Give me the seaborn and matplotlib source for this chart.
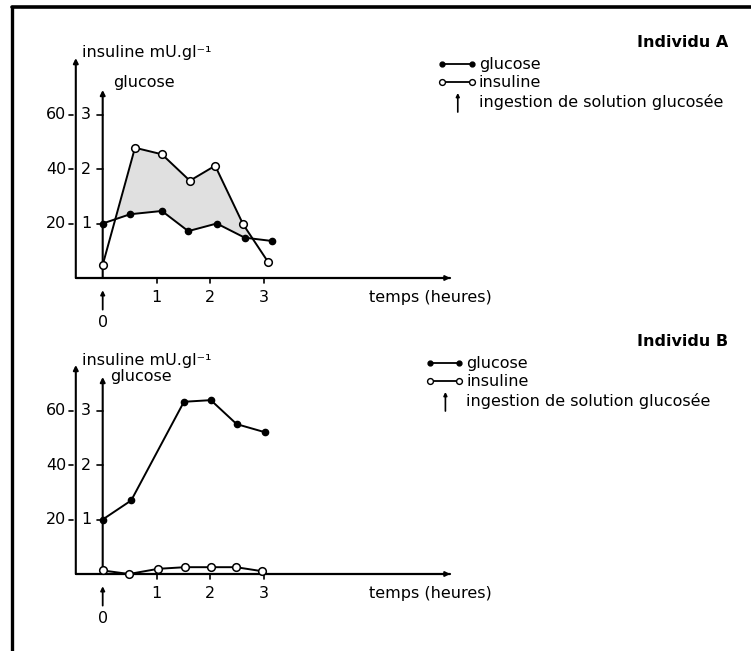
import numpy as np
import pandas as pd
import matplotlib
matplotlib.use("Agg")
import matplotlib.pyplot as plt
from matplotlib.lines import Line2D
import seaborn as sns

# --- data ---
# Individu A
time_glucose_a = [0, 0.51, 1.1, 1.59, 2.12, 2.64, 3.14]
glucose_a = [1.0, 1.17, 1.23, 0.86, 1.0, 0.74, 0.68]        # g/l
time_insulin_a = [0, 0.6, 1.1, 1.62, 2.09, 2.61, 3.07]
insulin_a = [4.8, 47.8, 45.4, 35.7, 41.2, 19.7, 6.0]         # mU/l

# Individu B
time_glucose_b = [0, 0.53, 1.51, 2.01, 2.49, 3.02]
glucose_b = [1.0, 1.35, 3.16, 3.19, 2.75, 2.6]
time_insulin_b = [0, 0.49, 1.03, 1.53, 2.01, 2.48, 2.97]
insulin_b = [1.3, 0.0, 1.9, 2.5, 2.5, 2.5, 1.0]

insulin_ticks = [20, 40, 60]
glucose_ticks = [1, 2, 3]
time_ticks = [1, 2, 3]

GLUCOSE_SCALE = 20   # 1 g/l of glucose sits at 20 mU/l on the shared axis

# --- layout (pixels of the 751x651 picture) ---
W, H = 751, 651
X0_PX = 102.7        # where t = 0 lies
PX_PER_H = 53.8
PX_PER_UNIT = 2.725
FS = 11.5


def panel_axes(fig, top_px, bottom_px, baseline_px):
    """Axes spanning a horizontal band of the figure, scaled to the chart."""
    ax = fig.add_axes([0, 1 - bottom_px / H, 1, (bottom_px - top_px) / H])
    ax.set_xlim(-X0_PX / PX_PER_H, (W - X0_PX) / PX_PER_H)
    ax.set_ylim((baseline_px - bottom_px) / PX_PER_UNIT,
                (baseline_px - top_px) / PX_PER_UNIT)
    return ax


def arrow(ax, x0, y0, x1, y1, lw=1.4, size=7):
    ax.annotate("", xy=(x1, y1), xytext=(x0, y0),
                arrowprops=dict(arrowstyle="-|>", color="black", lw=lw,
                                mutation_scale=size, shrinkA=0, shrinkB=0),
                annotation_clip=False)


def draw_panel(ax, tg, g, ti, ins, name, outer_top, inner_top,
               ins_label_y, glu_label_x, glu_label_y, legend_x, legend_y, shade=False):
    """Draw one glucose / insulin panel with its hand-drawn style axes."""
    glu_df = pd.DataFrame({"t": tg, "v": np.array(g) * GLUCOSE_SCALE})
    ins_df = pd.DataFrame({"t": ti, "v": ins})

    if shade:
        grid = np.linspace(0, max(tg[-1], ti[-1]), 500)
        gi = np.interp(grid, glu_df["t"], glu_df["v"])
        ii = np.interp(grid, ins_df["t"], ins_df["v"])
        ax.fill_between(grid, gi, ii, where=ii > gi, interpolate=True,
                        color="#e0e0e0", lw=0, zorder=1)

    sns.lineplot(data=glu_df, x="t", y="v", ax=ax, color="black", lw=1.4,
                 marker="o", ms=4.5, mfc="black", mec="black", mew=1,
                 errorbar=None, zorder=3)
    sns.lineplot(data=ins_df, x="t", y="v", ax=ax, color="black", lw=1.4,
                 marker="o", ms=5.5, mfc="white", mec="black", mew=1.1,
                 errorbar=None, zorder=4)

    # axes drawn by hand
    outer_x = -0.5
    ax.plot([outer_x, 6.45], [0, 0], color="black", lw=1.6, zorder=2)
    arrow(ax, 6.2, 0, 6.46, 0)
    arrow(ax, outer_x, 0, outer_x, outer_top, lw=1.5)
    arrow(ax, 0, 0, 0, inner_top, lw=1.5)

    for v in insulin_ticks:
        ax.plot([-0.63, -0.55], [v, v], color="black", lw=1.2)
        ax.text(-0.68, v, str(v), ha="right", va="center", fontsize=FS)
    for gv in glucose_ticks:
        v = gv * GLUCOSE_SCALE
        ax.plot([-0.1, 0], [v, v], color="black", lw=1.2)
        ax.text(-0.31, v, str(gv), ha="center", va="center", fontsize=FS)
    for t in time_ticks:
        ax.plot([t, t], [0, -1.9], color="black", lw=1.2)
        ax.text(t, -7, str(t), ha="center", va="center", fontsize=FS)

    # glucose ingestion at t = 0
    arrow(ax, 0, -11.6, 0, -4.5, lw=1.3, size=6)
    ax.text(0, -16.4, "0", ha="center", va="center", fontsize=FS)

    ax.text(-0.39, ins_label_y, "insuline mU.gl⁻¹", ha="left", va="center", fontsize=FS)
    ax.text(glu_label_x, glu_label_y, "glucose", ha="left", va="center", fontsize=FS)
    ax.text(4.95, -7, "temps (heures)", ha="left", va="center", fontsize=FS)

    # legend block
    ax.text(11.62, legend_y + 8, name, ha="right", va="center",
            fontsize=FS, fontweight="bold")
    lx0, lx1 = legend_x, legend_x + 0.55
    ax.plot([lx0, lx1], [legend_y, legend_y], color="black", lw=1.3,
            marker="o", ms=3.5, mfc="black", mec="black", clip_on=False)
    ax.plot([lx0, lx1], [legend_y - 6.6, legend_y - 6.6], color="black", lw=1.3,
            marker="o", ms=4.2, mfc="white", mec="black", clip_on=False)
    arrow(ax, lx0 + 0.29, legend_y - 17.6, lx0 + 0.29, legend_y - 10.6, lw=1.2, size=5)
    tx = lx1 + 0.13
    ax.text(tx, legend_y, "glucose", ha="left", va="center", fontsize=FS)
    ax.text(tx, legend_y - 6.6, "insuline", ha="left", va="center", fontsize=FS)
    ax.text(tx, legend_y - 14, "ingestion de solution glucosée",
            ha="left", va="center", fontsize=FS)

    ax.axis("off")


def main():
    sns.set_style("white")
    plt.rcParams["font.family"] = ["DejaVu Sans"]
    plt.rcParams["text.color"] = "black"

    fig = plt.figure(figsize=(W / 100, H / 100), dpi=100)

    ax_a = panel_axes(fig, 0, 325, 278)
    draw_panel(ax_a, time_glucose_a, glucose_a, time_insulin_a, insulin_a,
               "Individu A", outer_top=80.7, inner_top=69,
               ins_label_y=82.9, glu_label_x=0.19, glu_label_y=71.9,
               legend_x=6.31, legend_y=78.5, shade=True)

    ax_b = panel_axes(fig, 325, 651, 574)
    draw_panel(ax_b, time_glucose_b, glucose_b, time_insulin_b, insulin_b,
               "Individu B", outer_top=76.7, inner_top=72.3,
               ins_label_y=78.5, glu_label_x=0.14, glu_label_y=72.3,
               legend_x=6.08, legend_y=77.4)

    # page frame: left and top rules
    fig.add_artist(Line2D([12 / W, 12 / W], [1 - 7 / H, 0], color="black",
                          lw=2.4, transform=fig.transFigure))
    fig.add_artist(Line2D([12 / W, 1], [1 - 7 / H, 1 - 7 / H], color="black",
                          lw=2.6, transform=fig.transFigure))

    fig.savefig("out.png", dpi=100)


if __name__ == "__main__":
    main()
